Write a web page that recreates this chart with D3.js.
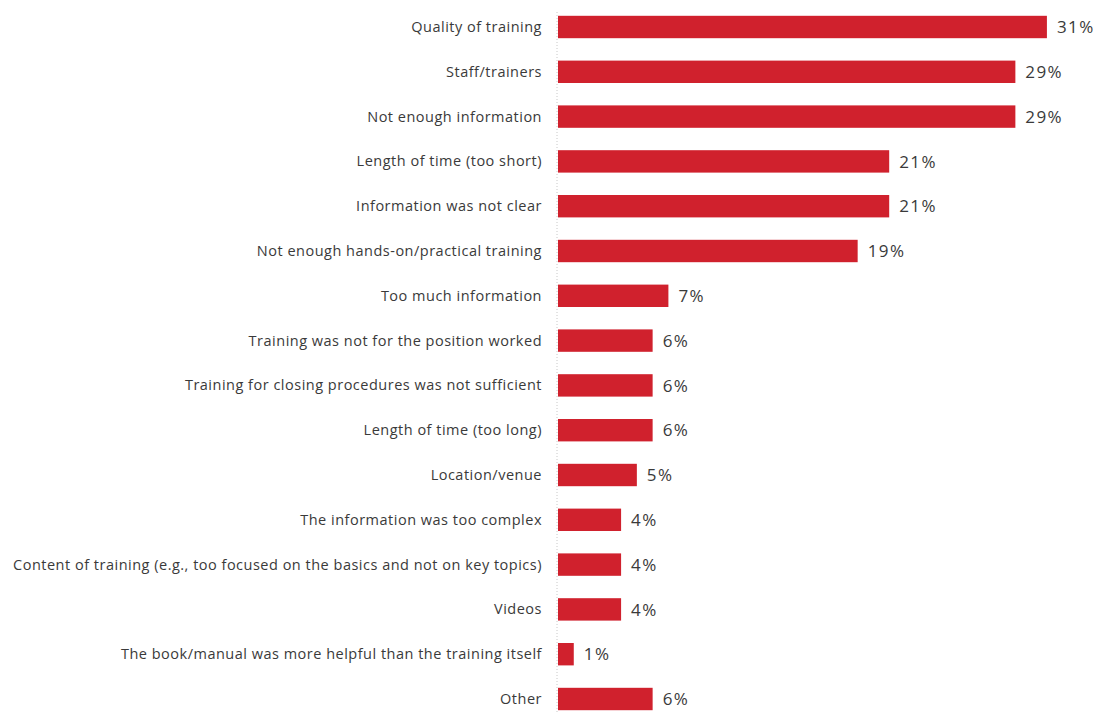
<!DOCTYPE html>
<html>
<head>
<meta charset="utf-8">
<script src="https://cdn.jsdelivr.net/npm/d3@7"></script>
<style>
  html, body { margin: 0; padding: 0; background: #ffffff; }
  svg { display: block; }
</style>
</head>
<body>
<svg id="chart" width="1102" height="712"></svg>
<script>
// Reasons given for dissatisfaction with training (% of respondents)
const categories = [
  "Quality of training",
  "Staff/trainers",
  "Not enough information",
  "Length of time (too short)",
  "Information was not clear",
  "Not enough hands-on/practical training",
  "Too much information",
  "Training was not for the position worked",
  "Training for closing procedures was not sufficient",
  "Length of time (too long)",
  "Location/venue",
  "The information was too complex",
  "Content of training (e.g., too focused on the basics and not on key topics)",
  "Videos",
  "The book/manual was more helpful than the training itself",
  "Other"
];
const values = [31, 29, 29, 21, 21, 19, 7, 6, 6, 6, 5, 4, 4, 4, 1, 6];

const svg = d3.select("#chart");
const axisX = 558;

const x = d3.scaleLinear().domain([0, 35]).range([axisX, axisX + 552]);
const y = d3.scaleBand()
  .domain(categories)
  .range([4.6, 721.4])
  .paddingInner(0.5)
  .paddingOuter(0.25);

// dotted category axis line
svg.append("line")
  .attr("x1", axisX - 1).attr("x2", axisX - 1)
  .attr("y1", 12).attr("y2", 712)
  .attr("stroke", "#c8c8c8")
  .attr("stroke-width", 1)
  .attr("stroke-dasharray", "1,2");

// bars
svg.append("g").selectAll("rect")
  .data(categories)
  .join("rect")
  .attr("x", x(0))
  .attr("y", d => y(d))
  .attr("width", (d, i) => x(values[i]) - x(0))
  .attr("height", y.bandwidth())
  .attr("fill", "#d0212d");

// category labels
svg.append("g").selectAll("text")
  .data(categories)
  .join("text")
  .attr("x", axisX - 16)
  .attr("y", d => y(d) + y.bandwidth() / 2)
  .attr("dy", "0.35em")
  .attr("text-anchor", "end")
  .attr("font-family", "'Open Sans', sans-serif")
  .attr("font-size", 14.5)
  .attr("letter-spacing", 0.5)
  .attr("fill", "#3a3a3a")
  .text(d => d);

// value labels
svg.append("g").selectAll("text")
  .data(categories)
  .join("text")
  .attr("x", (d, i) => x(values[i]) + 10)
  .attr("y", d => y(d) + y.bandwidth() / 2)
  .attr("dy", "0.37em")
  .attr("font-family", "'Open Sans', sans-serif")
  .attr("font-size", 17)
  .attr("letter-spacing", 1.4)
  .attr("fill", "#3a3a3a")
  .text((d, i) => values[i] + "%");
</script>
</body>
</html>
